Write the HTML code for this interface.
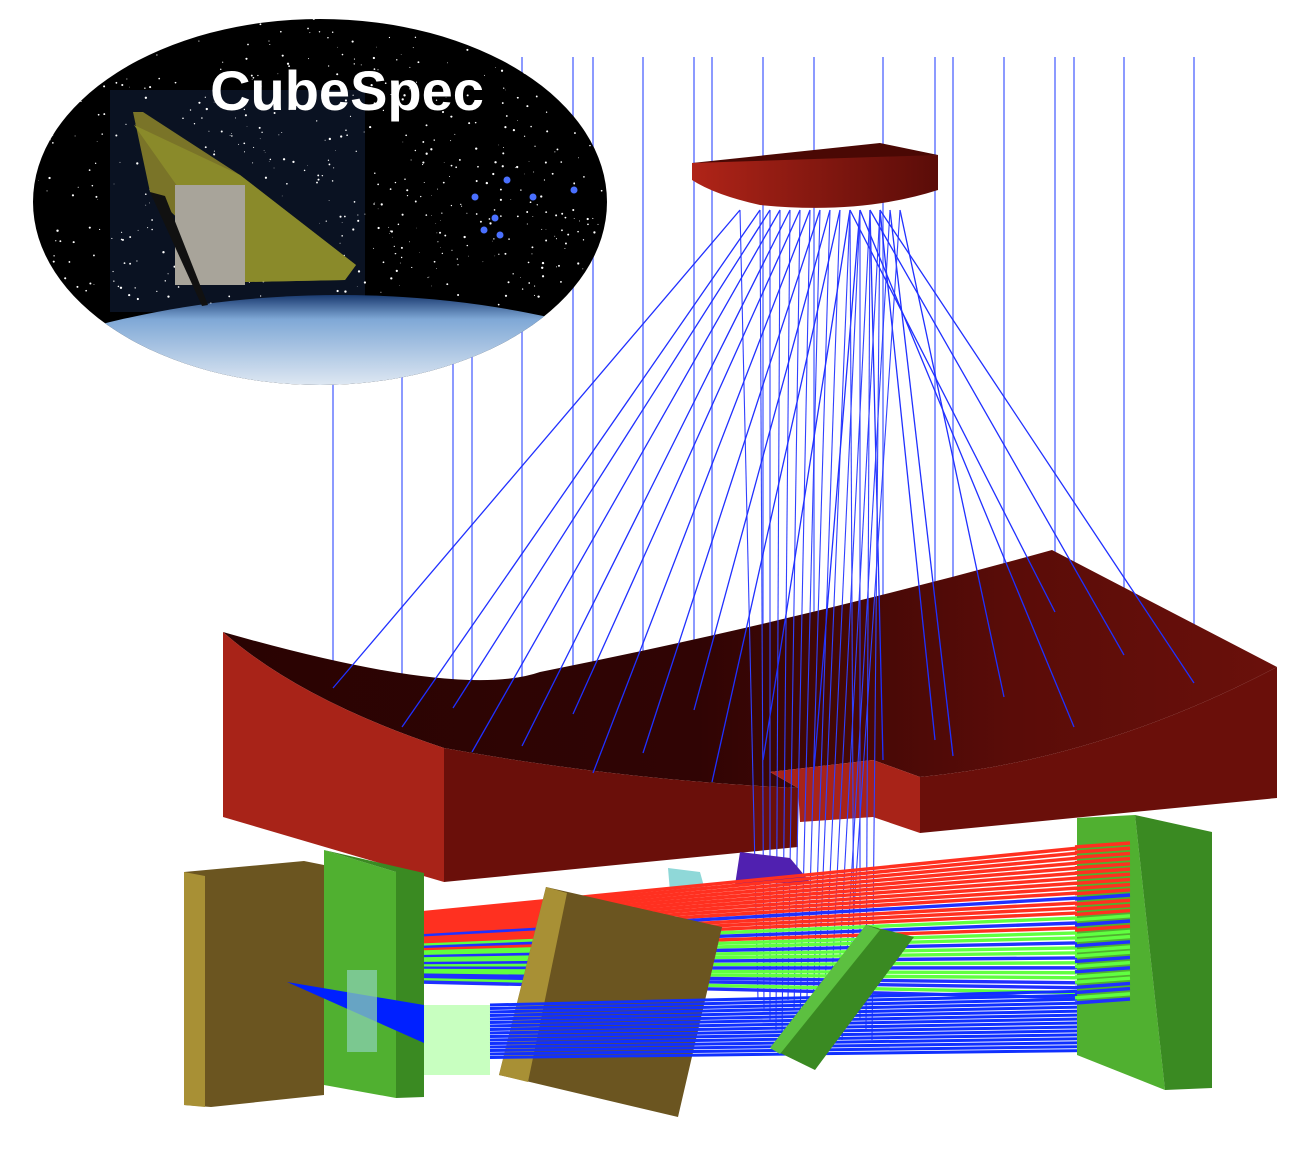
<!DOCTYPE html>
<html><head><meta charset="utf-8"><style>
html,body{margin:0;padding:0;background:#fff}
svg{display:block}
</style></head><body>
<svg id="scene" width="1314" height="1155" viewBox="0 0 1314 1155" xmlns="http://www.w3.org/2000/svg">
<defs>
<linearGradient id="topSurf" x1="0" y1="0" x2="1" y2="0">
<stop offset="0" stop-color="#2a0302"/><stop offset="0.45" stop-color="#300404"/><stop offset="0.75" stop-color="#5a0c08"/><stop offset="1" stop-color="#6a100b"/></linearGradient>
<linearGradient id="secFront" x1="0" y1="0" x2="1" y2="0">
<stop offset="0" stop-color="#b02418"/><stop offset="1" stop-color="#5a0c08"/></linearGradient>
<linearGradient id="earth" x1="0" y1="0" x2="0" y2="1">
<stop offset="0" stop-color="#1a3a70"/><stop offset="0.03" stop-color="#7fa8d6"/><stop offset="0.12" stop-color="#e8eef5"/><stop offset="0.2" stop-color="#9dbde0"/><stop offset="0.3" stop-color="#f2f5f8"/><stop offset="1" stop-color="#ffffff"/></linearGradient>
<clipPath id="ellClip"><ellipse cx="320" cy="202" rx="287" ry="183"/></clipPath>
</defs>
<g id="rays"></g>
<g id="primary">
<path d="M223,632 Q460,700 540,672 Q800,620 1052,550 L1277,667 Q1100,760 920,777 L873,760 L770,772 L798,788 Q620,780 444,748 Q300,700 223,632 Z" fill="url(#topSurf)"/>
<path d="M223,632 Q300,700 444,748 L444,882 L223,817 Z" fill="#a82318"/>
<path d="M444,748 Q620,780 798,788 L798,847 L444,882 Z" fill="#6a0f0a"/>
<path d="M770,772 L873,760 L920,777 L920,833 L873,817 L800,822 L798,788 Z" fill="#a82318"/>
<path d="M920,777 Q1100,760 1277,667 L1277,798 L920,833 Z" fill="#6a0f0a"/>
</g>
<g id="rays2"></g>
<g id="secondary">
<path d="M692,163 L880,143 L938,155 L710,176 Z" fill="#4a0804"/>
<path d="M692,163 L938,155 L938,190 Q860,215 760,205 Q715,195 692,180 Z" fill="url(#secFront)"/>
</g>
<g id="bottom">
<polygon points="740,852 790,858 810,882 735,885" fill="#5020b0"/>
<polygon points="668,868 700,872 705,890 670,892" fill="#60c8c8" opacity="0.7"/>
<g id="bundlesBack"></g>
<polygon points="184,872 304,861 324,865 324,1095 211,1107 184,1105" fill="#6b5520"/>
<polygon points="184,872 205,876 205,1107 184,1105" fill="#a89035"/>
<polygon points="324,850 396,872 396,1098 324,1085" fill="#50b030"/>
<polygon points="324,850 424,873 424,1097 396,1098 396,872" fill="#3a8a22"/>
<polygon points="287,982 424,1005 424,1043" fill="#0020ff"/>
<rect x="347" y="970" width="30" height="82" fill="#8ad0b0" opacity="0.75"/>
<rect x="424" y="1005" width="66" height="70" fill="#c8ffc0"/>
<polygon points="546,887 722,927 678,1117 530,1082 499,1075" fill="#6b5520"/>
<polygon points="546,887 567,893 528,1082 499,1075" fill="#a89035"/>
<g id="bundlesBlue"></g>
<polygon points="770,1048 866,925 914,937 815,1070" fill="#3a8a22"/>
<polygon points="770,1048 866,925 880,930 780,1054" fill="#5cc040"/>
<polygon points="1077,818 1135,815 1165,1090 1077,1055" fill="#50b030"/>
<polygon points="1135,815 1212,832 1212,1088 1165,1090" fill="#3a8a22"/>
<g id="bundlesFront"></g>
</g>
<g id="inset">
<ellipse cx="320" cy="202" rx="287" ry="183" fill="#000"/>
<g clip-path="url(#ellClip)">
<rect x="110" y="90" width="255" height="222" fill="#0a1222"/>
<g id="stars"></g>
<ellipse cx="340" cy="700" rx="640" ry="405" fill="url(#earth)"/>
<g>
<polygon points="133,112 143,112 240,175 356,265 345,280 245,282 150,192" fill="#7a7428"/>
<polygon points="134,125 240,175 356,265 345,280 245,282" fill="#8a8a2a"/>
<rect x="175" y="185" width="70" height="100" fill="#a8a49a"/>
<polygon points="150,192 165,196 208,305 202,306" fill="#111"/>
</g>
</g>
<text x="347" y="110" text-anchor="middle" font-family="Liberation Sans, sans-serif" font-weight="bold" font-size="56" fill="#fff">CubeSpec</text>
</g>
</svg>
<script>
var rayX=[333,402,453,472,522,573,593,643,694,712,763,814,883,935,953,1004,1055,1074,1124,1194];
var rayEndY=[688,727,708,752,746,714,773,753,710,782,760,770,760,740,756,697,612,727,655,683];
var secX=[740,760,770,780,790,800,810,820,830,840,850,860,870,880,890,900,850,860,870,880];
var bandCol=['#ff3020','#ff3020','#ff3020','#ff3020','#ff3020','#ff3020','#ff3020','#ff3020','#ff3020','#ff3020','#2030ff','#ff3020','#ff3020','#ff3020','#60ff40','#2030ff','#ff3020','#60ff40','#60ff40','#2030ff','#60ff40','#60ff40','#2030ff','#60ff40','#2030ff','#60ff40','#60ff40','#2030ff','#2030ff','#60ff40','#2030ff'];
var clusterStars=[[507,180],[475,197],[533,197],[495,218],[574,190],[484,230],[500,235]];
var SVGNS='http://www.w3.org/2000/svg';
function mkLine(g,x1,y1,x2,y2,c,w){var l=document.createElementNS(SVGNS,'line');l.setAttribute('x1',x1);l.setAttribute('y1',y1);l.setAttribute('x2',x2);l.setAttribute('y2',y2);l.setAttribute('stroke',c);l.setAttribute('stroke-width',w);g.appendChild(l);return l;}
try{
var gA=document.getElementById('rays'),gB=document.getElementById('rays2');
for(var i=0;i<rayX.length;i++){
var a=mkLine(gA,rayX[i],57,rayX[i],rayEndY[i],'#7080ff',1.6);


var b=mkLine(gB,rayX[i],rayEndY[i],secX[i],210,'#2030ff',1.3);


var c=mkLine(gB,secX[i],210,758+i*6,1000+(i%5)*10,'#3040ff',1.1);


}
}catch(e){}
try{
var gBack=document.getElementById('bundlesBack'),gFront=document.getElementById('bundlesFront'),gBlue=document.getElementById('bundlesBlue');
for(var j=0;j<bandCol.length;j++){
var l1=mkLine(gBack,420,913+j*2.3,1130,843+j*5.2,bandCol[j],3.4);


var l2=mkLine(gFront,1075,847+j*5.2,1130,843+j*5.2,bandCol[j],3.4);


}
for(var k=0;k<16;k++){
var l3=mkLine(gBlue,490,1005+k*3.5,1137,990+k*4,'#1030ff',3);


}
}catch(e){}
try{
var gS=document.getElementById('stars');
var seed=7;function rnd(){seed=(seed*16807)%2147483647;return seed/2147483647;}
for(var m=0;m<650;m++){var cc=document.createElementNS(SVGNS,'circle');cc.setAttribute('cx',30+rnd()*580);cc.setAttribute('cy',18+rnd()*290);cc.setAttribute('r',rnd()*0.9+0.3);cc.setAttribute('fill','#fff');gS.appendChild(cc);}
for(var n=0;n<clusterStars.length;n++){var q=document.createElementNS(SVGNS,'circle');q.setAttribute('cx',clusterStars[n][0]);q.setAttribute('cy',clusterStars[n][1]);q.setAttribute('r',3.5);q.setAttribute('fill','#4a70ff');gS.appendChild(q);}
}catch(e){}
</script>
</body></html>
